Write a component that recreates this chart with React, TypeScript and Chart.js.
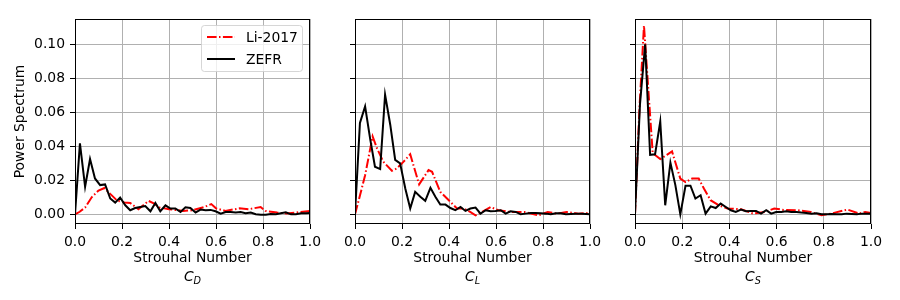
import React, { useEffect, useRef } from 'react';
import { Chart, registerables } from 'chart.js';

Chart.register(...registerables);

// ---------------- data ----------------
const SERIES_NAMES = ['Li-2017', 'ZEFR'];
const X_TITLE = 'Strouhal Number';
const Y_TITLE = 'Power Spectrum';
const PANEL_SYMBOL = ['C', 'C', 'C'];
const PANEL_SUB = ['D', 'L', 'S'];
const X_TICKS = [0, 0.2, 0.4, 0.6, 0.8, 1.0];
const Y_TICKS = [0, 0.02, 0.04, 0.06, 0.08, 0.1];

const ZEFR_X = [
  0, 0.021, 0.043, 0.064, 0.085, 0.107, 0.128, 0.15, 0.171, 0.192,
  0.214, 0.235, 0.256, 0.278, 0.299, 0.321, 0.342, 0.363, 0.385, 0.406,
  0.427, 0.449, 0.47, 0.491, 0.513, 0.534, 0.556, 0.577, 0.598, 0.62,
  0.641, 0.662, 0.684, 0.705, 0.726, 0.748, 0.769, 0.791, 0.812, 0.833,
  0.855, 0.876, 0.897, 0.919, 0.94, 0.962, 0.983, 1.004,
];
const ZEFR_CD = [
  0, 0.0418, 0.0162, 0.0325, 0.0211, 0.0172, 0.0176, 0.0093, 0.0069, 0.0099,
  0.0053, 0.0024, 0.0037, 0.0043, 0.0049, 0.0018, 0.0067, 0.0018, 0.0053, 0.0034,
  0.0034, 0.0014, 0.0041, 0.0037, 0.001, 0.0028, 0.0024, 0.0026, 0.0018, 0.0004,
  0.0014, 0.0014, 0.001, 0.0014, 0.0006, 0.001, 0, -0.0002, -0.0002, 0.0002,
  0, 0.0006, 0.0012, 0, 0, 0.0006, 0.0006, 0.0008,
];
const ZEFR_CL = [
  0, 0.0537, 0.0635, 0.0448, 0.028, 0.0266, 0.0704, 0.0527, 0.032, 0.03,
  0.0152, 0.0034, 0.0132, 0.0103, 0.0079, 0.0156, 0.0103, 0.0057, 0.0057, 0.0037,
  0.0024, 0.0043, 0.002, 0.0034, 0.004, 0.0004, 0.0024, 0.0018, 0.002, 0.0024,
  0.0004, 0.0018, 0.0014, 0, 0.0004, 0.0008, 0.0008, 0.0006, 0.0004, 0,
  0.0006, 0.0006, 0, 0.0002, 0.0004, 0.0004, 0.0002, 0,
];
const ZEFR_CS = [
  0, 0.0645, 0.1, 0.035, 0.0353, 0.0546, 0.0053, 0.0304, 0.0172, 0,
  0.0168, 0.0168, 0.0093, 0.0112, 0.0004, 0.0047, 0.0037, 0.0063, 0.0043, 0.0024,
  0.0014, 0.0028, 0.0018, 0.002, 0.002, 0.0004, 0.0024, 0.0004, 0.0014, 0.0014,
  0.0018, 0.0014, 0.0014, 0.001, 0.0008, 0.0004, 0.0006, 0, 0, 0.0002,
  0, 0, 0.0004, 0.0002, 0, 0.0004, 0.0004, 0.0004,
];

const LI_CD_X = [
  0, 0.02, 0.043, 0.071, 0.1, 0.125, 0.15, 0.18, 0.21, 0.235,
  0.27, 0.313, 0.335, 0.36, 0.4, 0.46, 0.5, 0.55, 0.58, 0.6,
  0.64, 0.7, 0.74, 0.79, 0.81, 0.86, 0.9, 0.97, 1.0,
];
const LI_CD = [
  0, 0.0015, 0.004, 0.01, 0.014, 0.0155, 0.012, 0.008, 0.007, 0.0067,
  0.003, 0.0079, 0.0065, 0.004, 0.003, 0.002, 0.0024, 0.0043, 0.006, 0.0035,
  0.002, 0.0035, 0.003, 0.0043, 0.002, 0.001, 0.0005, 0.0015, 0.002,
];
const LI_CL_X = [
  0, 0.021, 0.043, 0.075, 0.093, 0.12, 0.157, 0.178, 0.207, 0.235,
  0.273, 0.313, 0.328, 0.363, 0.406, 0.434, 0.463, 0.49, 0.513, 0.54,
  0.577, 0.61, 0.66, 0.72, 0.78, 0.82, 0.86, 0.9, 0.95, 1.0,
];
const LI_CL = [
  0, 0.011, 0.023, 0.0458, 0.039, 0.031, 0.0256, 0.027, 0.031, 0.0353,
  0.0176, 0.026, 0.025, 0.0132, 0.0073, 0.0034, 0.0034, 0.0014, -0.0006, 0.0014,
  0.0043, 0.0024, 0.0014, 0.0014, -0.0006, 0.0014, 0.0004, 0.0014, 0.0004, 0.0008,
];
const LI_CS_X = [
  0, 0.019, 0.038, 0.057, 0.075, 0.107, 0.135, 0.157, 0.192, 0.214,
  0.242, 0.27, 0.292, 0.32, 0.356, 0.392, 0.45, 0.5, 0.55, 0.59,
  0.63, 0.69, 0.745, 0.79, 0.83, 0.9, 0.95, 0.975, 1.0,
];
const LI_CS = [
  0, 0.0625, 0.111, 0.0724, 0.036, 0.0325, 0.035, 0.037, 0.021, 0.019,
  0.021, 0.021, 0.0152, 0.0083, 0.0053, 0.0034, 0.003, 0.0004, 0.0014, 0.0034,
  0.0026, 0.0024, 0.0014, -0.0006, 0.0004, 0.0028, 0.0004, 0.0014, 0.0008,
];

const ZEFR_SERIES = [ZEFR_CD, ZEFR_CL, ZEFR_CS];
const LI_XS = [LI_CD_X, LI_CL_X, LI_CS_X];
const LI_SERIES = [LI_CD, LI_CL, LI_CS];

// ---------------- layout / style ----------------
const W = 900;
const H = 300;
const AREA_LEFT = [75, 355, 635];
const AREA_RIGHT = [310, 590, 871];
const AREA_TOP = 19;
const AREA_BOTTOM = 224;
const Y_MIN = -0.0057;
const Y_MAX = 0.1149;
const FONT_FAMILY = '"DejaVu Sans", sans-serif';
const FS = 13.9;
const RED_DASH = [9.6, 2.4, 1.5, 2.4];

function makePlugin(i: number) {
  return {
    id: 'mplFrame' + i,
    afterDraw(chart: any) {
      const { ctx, chartArea: a } = chart;
      ctx.save();
      // box spines
      ctx.strokeStyle = '#000';
      ctx.lineWidth = 1;
      ctx.setLineDash([]);
      ctx.strokeRect(a.left + 0.5, a.top + 0.5, a.right - a.left - 1, a.bottom - a.top - 1);

      // subscript label
      const cx = (a.left + a.right) / 2;
      const bigFont = `italic ${FS}px ${FONT_FAMILY}`;
      const smallFont = `italic ${FS * 0.7}px ${FONT_FAMILY}`;
      ctx.fillStyle = '#000';
      ctx.textBaseline = 'alphabetic';
      ctx.textAlign = 'left';
      ctx.font = bigFont;
      const wC = ctx.measureText(PANEL_SYMBOL[i]).width;
      ctx.font = smallFont;
      const wS = ctx.measureText(PANEL_SUB[i]).width;
      const x0 = cx - (wC + wS) / 2;
      ctx.font = bigFont;
      ctx.fillText(PANEL_SYMBOL[i], x0, 281);
      ctx.font = smallFont;
      ctx.fillText(PANEL_SUB[i], x0 + wC, 284);

      // legend
      if (i === 0) {
        const bx = 201.5, by = 25.5, bw = 101, bh = 46;
        const r = 3;
        ctx.beginPath();
        ctx.moveTo(bx + r, by);
        ctx.lineTo(bx + bw - r, by);
        ctx.arcTo(bx + bw, by, bx + bw, by + r, r);
        ctx.lineTo(bx + bw, by + bh - r);
        ctx.arcTo(bx + bw, by + bh, bx + bw - r, by + bh, r);
        ctx.lineTo(bx + r, by + bh);
        ctx.arcTo(bx, by + bh, bx, by + bh - r, r);
        ctx.lineTo(bx, by + r);
        ctx.arcTo(bx, by, bx + r, by, r);
        ctx.closePath();
        ctx.fillStyle = 'rgba(255,255,255,0.8)';
        ctx.fill();
        ctx.strokeStyle = 'rgba(204,204,204,0.8)';
        ctx.lineWidth = 1;
        ctx.stroke();

        const rows = [37, 59];
        const colors = ['#ff0000', '#000000'];
        const dashes = [RED_DASH, []];
        for (let k = 0; k < 2; k++) {
          ctx.beginPath();
          ctx.strokeStyle = colors[k];
          ctx.lineWidth = 2;
          ctx.setLineDash(dashes[k]);
          ctx.moveTo(207, rows[k]);
          ctx.lineTo(235, rows[k]);
          ctx.stroke();
          ctx.setLineDash([]);
          ctx.fillStyle = '#000';
          ctx.font = `${FS}px ${FONT_FAMILY}`;
          ctx.textBaseline = 'middle';
          ctx.fillText(SERIES_NAMES[k], 246, rows[k] + 1);
        }
      }
      ctx.restore();
    },
  };
}

function makeConfig(i: number): any {
  const font = { family: FONT_FAMILY, size: FS };
  const gridOpts = {
    color: '#b0b0b0',
    lineWidth: 1,
    drawTicks: true,
    tickLength: 5,
    tickColor: '#000',
    tickWidth: 1,
  };
  return {
    type: 'line',
    data: {
      datasets: [
        {
          label: SERIES_NAMES[0],
          data: LI_XS[i].map((x, k) => ({ x, y: LI_SERIES[i][k] })),
          borderColor: '#ff0000',
          borderWidth: 2,
          borderDash: RED_DASH,
          pointRadius: 0,
          fill: false,
          tension: 0,
          order: 1,
        },
        {
          label: SERIES_NAMES[1],
          data: ZEFR_X.map((x, k) => ({ x, y: ZEFR_SERIES[i][k] })),
          borderColor: '#000000',
          borderWidth: 2,
          pointRadius: 0,
          fill: false,
          tension: 0,
          order: 0,
        },
      ],
    },
    options: {
      responsive: false,
      animation: false,
      events: [],
      layout: {
        padding: { left: 0, right: W - AREA_RIGHT[i], top: AREA_TOP, bottom: 0 },
      },
      plugins: {
        legend: { display: false },
        tooltip: { enabled: false },
      },
      scales: {
        x: {
          type: 'linear',
          min: 0,
          max: 1,
          afterBuildTicks: (s: any) => {
            s.ticks = X_TICKS.map((v) => ({ value: v }));
          },
          afterFit: (s: any) => {
            s.height = H - AREA_BOTTOM;
            s.paddingLeft = 0;
            s.paddingRight = 0;
          },
          ticks: {
            font,
            color: '#000',
            padding: 5,
            maxRotation: 0,
            autoSkip: false,
            callback: (v: any) => Number(v).toFixed(1),
          },
          title: {
            display: true,
            text: X_TITLE,
            font,
            color: '#000',
            padding: { top: 0, bottom: 33.5 },
          },
          grid: gridOpts,
          border: { display: false },
        },
        y: {
          type: 'linear',
          min: Y_MIN,
          max: Y_MAX,
          afterBuildTicks: (s: any) => {
            s.ticks = Y_TICKS.map((v) => ({ value: v }));
          },
          afterFit: (s: any) => {
            s.width = AREA_LEFT[i];
            s.paddingTop = 0;
            s.paddingBottom = 0;
          },
          ticks: {
            display: i === 0,
            font,
            color: '#000',
            padding: 5,
            callback: (v: any) => Number(v).toFixed(2),
          },
          title: {
            display: i === 0,
            text: Y_TITLE,
            font,
            color: '#000',
            padding: { top: 12, bottom: 0 },
          },
          grid: gridOpts,
          border: { display: false },
        },
      },
    },
    plugins: [makePlugin(i)],
  };
}

export default function App() {
  const r0 = useRef<HTMLCanvasElement>(null);
  const r1 = useRef<HTMLCanvasElement>(null);
  const r2 = useRef<HTMLCanvasElement>(null);
  const refs = [r0, r1, r2];

  useEffect(() => {
    const charts = refs.map((r, i) => new Chart(r.current as HTMLCanvasElement, makeConfig(i)));
    return () => charts.forEach((c) => c.destroy());
  }, []);

  return (
    <div style={{ position: 'absolute', left: 0, top: 0, width: W, height: H, background: '#fff' }}>
      {refs.map((r, i) => (
        <canvas
          key={i}
          ref={r}
          width={W}
          height={H}
          style={{ position: 'absolute', left: 0, top: 0, width: W, height: H }}
        />
      ))}
    </div>
  );
}
